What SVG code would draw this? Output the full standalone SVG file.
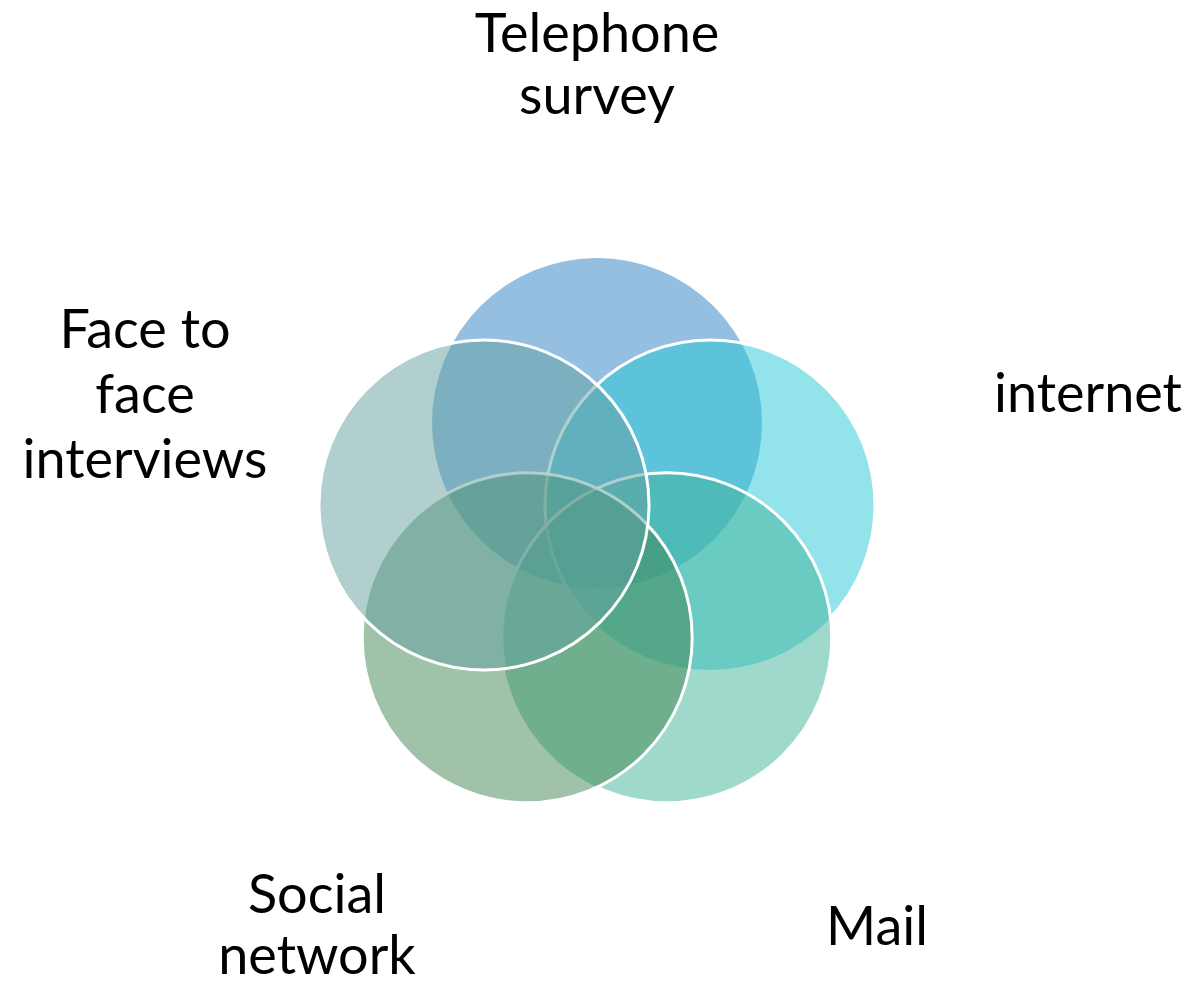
<svg xmlns="http://www.w3.org/2000/svg" width="1191" height="986" viewBox="0 0 1191 986">
  <style>
    .label { font-family: Lato, "Open Sans", "Liberation Sans", sans-serif; font-size: 54px; fill: #000; text-anchor: middle; }
    .fill { fill-opacity: 0.5; stroke: none; }
    .rim { fill: none; stroke: #fff; stroke-width: 3; }
  </style>
  <defs>
    <!-- rims of earlier circles vanish under later ones, but show faintly through the last circle -->
    <mask id="rim-internet" maskUnits="userSpaceOnUse" x="0" y="0" width="1191" height="986">
      <rect width="1191" height="986" fill="#fff"/>
      <circle cx="666.8" cy="637.8" r="165" fill="#000"/>
      <circle cx="527.2" cy="637.8" r="165" fill="#000"/>
      <circle cx="484" cy="505" r="165" fill="#fff"/>
    </mask>
    <mask id="rim-mail" maskUnits="userSpaceOnUse" x="0" y="0" width="1191" height="986">
      <rect width="1191" height="986" fill="#fff"/>
      <circle cx="527.2" cy="637.8" r="165" fill="#000"/>
      <circle cx="484" cy="505" r="165" fill="#fff"/>
    </mask>
  </defs>

  <g id="telephone">
    <circle class="fill" cx="597" cy="423" r="165" fill="rgb(41,127,193)"/>
    <text class="label" x="597" y="52">Telephone</text>
    <text class="label" x="597" y="114">survey</text>
  </g>

  <g id="internet">
    <circle class="fill" cx="710" cy="505" r="165" fill="rgb(37,199,213)"/>
    <circle class="rim" cx="710" cy="505" r="165" mask="url(#rim-internet)"/>
    <text class="label" x="1088" y="412">internet</text>
  </g>

  <g id="mail">
    <circle class="fill" cx="666.8" cy="637.8" r="165" fill="rgb(63,179,151)"/>
    <circle class="rim" cx="666.8" cy="637.8" r="165" mask="url(#rim-mail)"/>
    <text class="label" x="877" y="945">Mail</text>
  </g>

  <g id="social-network">
    <circle class="fill" cx="527.2" cy="637.8" r="165" fill="rgb(63,133,81)"/>
    <circle class="rim" cx="527.2" cy="637.8" r="165"/>
    <text class="label" x="317" y="913">Social</text>
    <text class="label" x="317" y="974">network</text>
  </g>

  <g id="face-to-face">
    <circle class="fill" cx="484" cy="505" r="165" fill="rgb(99,159,159)"/>
    <circle class="rim" cx="484" cy="505" r="165"/>
    <text class="label" x="145" y="348">Face to</text>
    <text class="label" x="145" y="413">face</text>
    <text class="label" x="145" y="478">interviews</text>
  </g>

  <g id="connectors"/>
</svg>
